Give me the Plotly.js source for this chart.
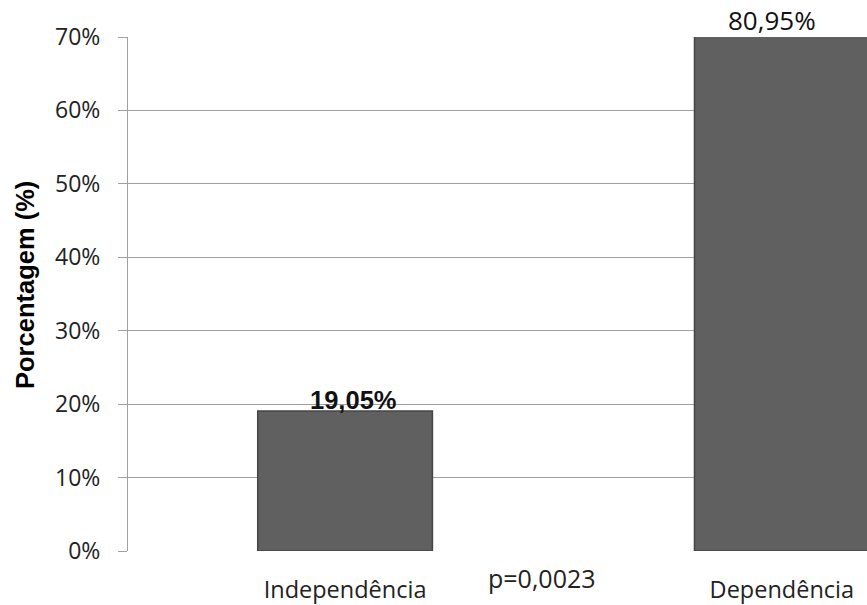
<!DOCTYPE html>
<html>
<head>
<meta charset="utf-8">
<script src="https://cdn.plot.ly/plotly-3.0.1.min.js"></script>
<style>html,body{margin:0;padding:0;background:#fff;}#chart{width:867px;height:605px;}</style>
</head>
<body>
<div id="chart"></div>
<script>
const categories = ["Independência", "Dependência"];
const values = [19.05, 80.95];
const valueLabels = ["19,05%", "80,95%"];
const yTickVals = [0, 10, 20, 30, 40, 50, 60, 70];
const yTickText = ["0%", "10%", "20%", "30%", "40%", "50%", "60%", "70%"];
const pValueText = "p=0,0023";
const yTitle = "Porcentagem (%)";

const yMax = 70;
const labelStyles = [
  {font: {family: "Liberation Sans, Arial, sans-serif", size: 25.5, color: "#111"}, bold: true, xshift: 8, yshift: -5},
  {font: {family: "Open Sans, sans-serif", size: 26, color: "#111", weight: 500}, bold: false, xshift: -10, yshift: -3}
];

const trace = {
  type: "bar",
  x: categories,
  y: values,
  width: 0.4,
  marker: {color: "#606060", line: {color: "#454545", width: 1.5}},
  hoverinfo: "skip"
};

const annotations = categories.map((c, i) => ({
  x: c, y: Math.min(values[i], yMax), xref: "x", yref: "y",
  text: labelStyles[i].bold ? "<b>" + valueLabels[i] + "</b>" : valueLabels[i],
  showarrow: false, yanchor: "bottom",
  xshift: labelStyles[i].xshift, yshift: labelStyles[i].yshift,
  font: labelStyles[i].font
}));
annotations.push({
  x: 0.45, xref: "x", y: -0.052, yref: "paper",
  text: pValueText, showarrow: false, yanchor: "middle",
  font: {family: "Open Sans, sans-serif", size: 25, color: "#222"}
});
annotations.push({
  x: -0.1394, xref: "paper", y: 0.5175, yref: "paper",
  text: "<b>" + yTitle + "</b>", showarrow: false, textangle: -90,
  xanchor: "center", yanchor: "middle",
  font: {family: "Liberation Sans, Arial, sans-serif", size: 25.5, color: "#000"}
});

const layout = {
  width: 867, height: 605,
  margin: {l: 128, r: 0, t: 37, b: 54},
  paper_bgcolor: "#fff", plot_bgcolor: "#fff",
  showlegend: false,
  bargap: 0,
  xaxis: {
    type: "category",
    range: [-0.497, 1.195],
    showgrid: false, zeroline: false, showline: false,
    ticks: "", ticklabelstandoff: 22,
    tickfont: {family: "Open Sans, sans-serif", size: 23.5, color: "#222"},
    fixedrange: true
  },
  yaxis: {
    range: [0, yMax],
    tickvals: yTickVals, ticktext: yTickText,
    showgrid: true, gridcolor: "#a0a0a0", gridwidth: 1,
    zeroline: false,
    showline: true, linecolor: "#a0a0a0", linewidth: 1,
    ticks: "outside", ticklen: 9, tickcolor: "#a0a0a0", tickwidth: 1,
    ticklabelstandoff: 13,
    tickfont: {family: "Open Sans, sans-serif", size: 23, color: "#222"},
    fixedrange: true
  },
  annotations: annotations
};

Plotly.newPlot("chart", [trace], layout, {staticPlot: true, displayModeBar: false});
</script>
</body>
</html>
